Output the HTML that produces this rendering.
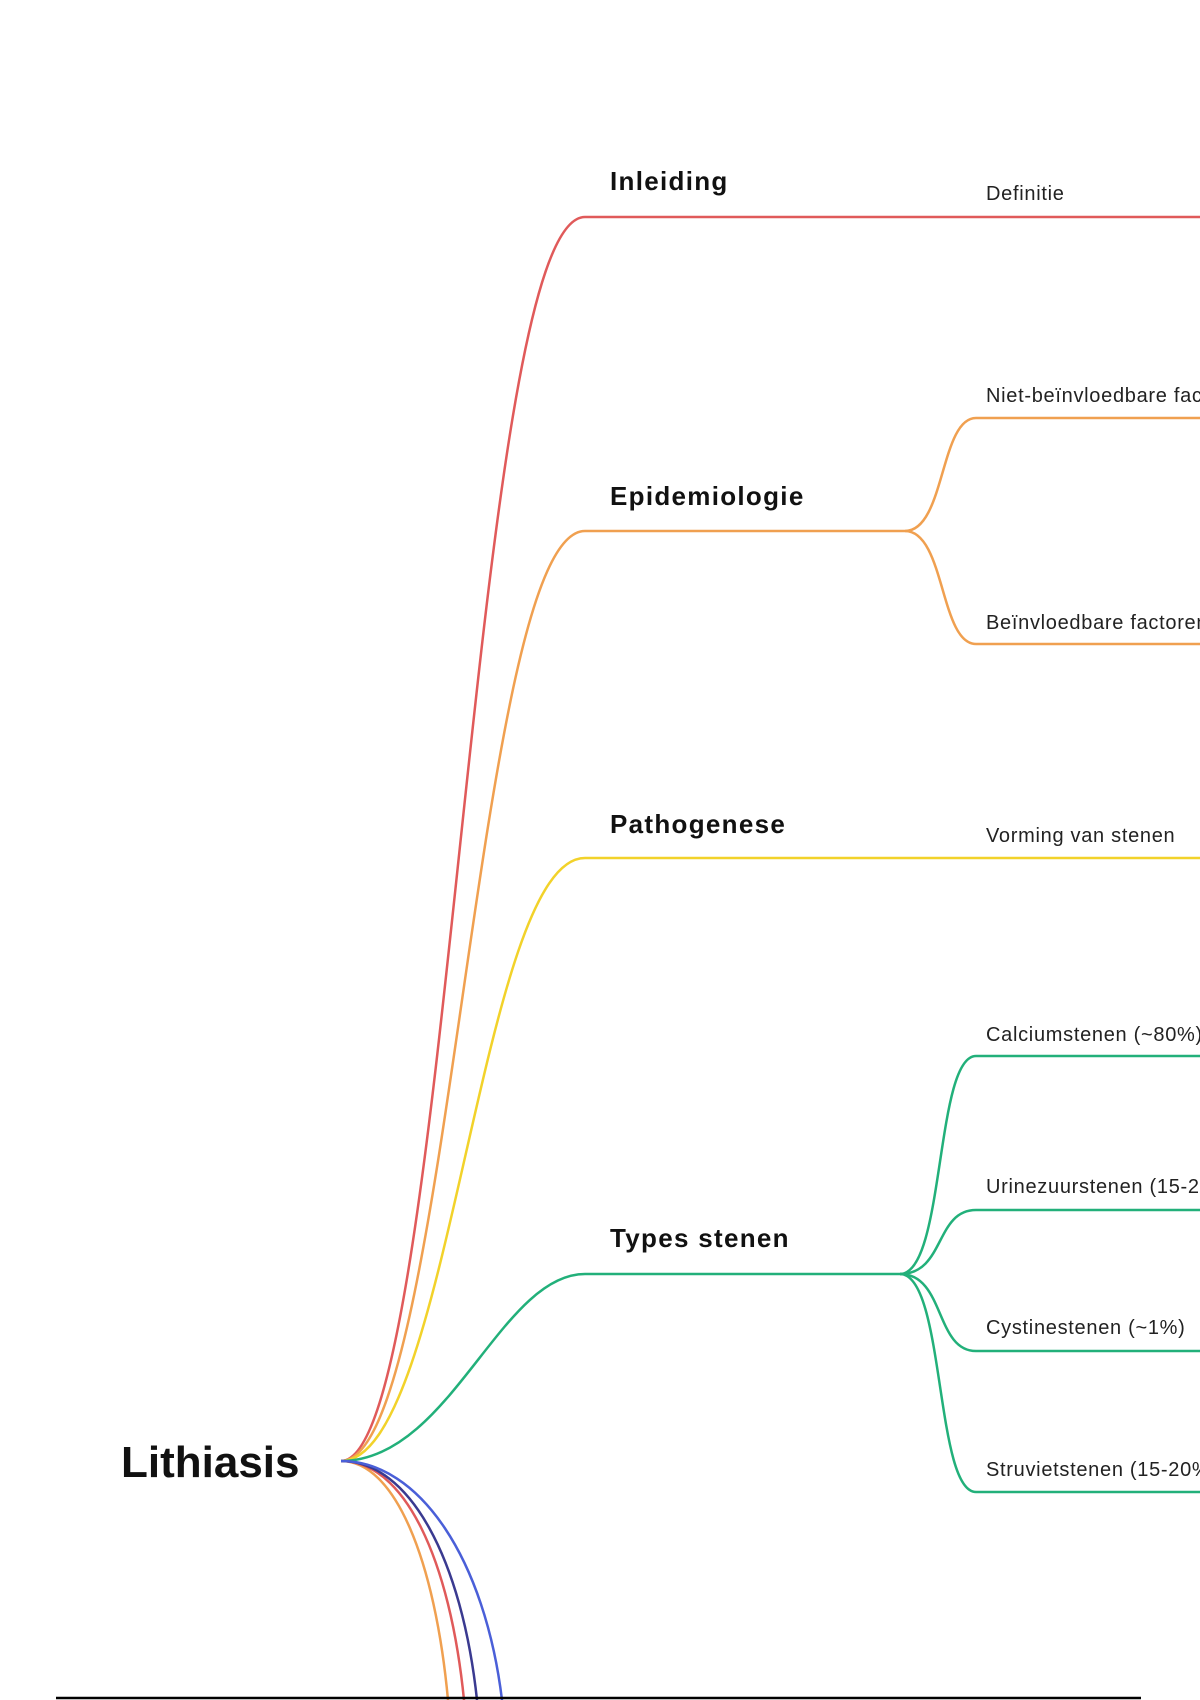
<!DOCTYPE html>
<html><head><meta charset="utf-8"><style>
html,body{margin:0;padding:0;background:#fff;}
svg{display:block}
text{font-family:"Liberation Sans",sans-serif;fill:#111}
.l1{font-size:26px;font-weight:bold;letter-spacing:1.3px}
.l2{font-size:20px;fill:#222;letter-spacing:0.7px}
</style></head><body>
<svg width="1200" height="1700" viewBox="0 0 1200 1700" xmlns="http://www.w3.org/2000/svg">
<g fill="none" stroke-width="2.5">
<path d="M341,1461 C450,1461 470,217 585,217 L1200,217" stroke="#e05a5a"/>
<path d="M341,1461 C450,1461 475,531 585,531 L905,531" stroke="#f0a050"/>
<path d="M341,1461 C450,1461 480,858 585,858 L1200,858" stroke="#f2d22a"/>
<path d="M341,1461 C450,1461 500,1274 585,1274 L900,1274" stroke="#22b07a"/>
<path d="M905,531 C945,531 940,418 976,418 L1200,418" stroke="#f0a050"/>
<path d="M905,531 C945,531 940,644 976,644 L1200,644" stroke="#f0a050"/>
<path d="M900,1274 C945,1274 935,1056 976,1056 L1200,1056" stroke="#22b07a"/>
<path d="M900,1274 C945,1274 935,1210 976,1210 L1200,1210" stroke="#22b07a"/>
<path d="M900,1274 C945,1274 935,1351 976,1351 L1200,1351" stroke="#22b07a"/>
<path d="M900,1274 C945,1274 935,1492 976,1492 L1200,1492" stroke="#22b07a"/>
<path d="M341,1461 C395,1461 435,1560 448,1700" stroke="#f0a050"/>
<path d="M341,1461 C405,1461 450,1560 464,1700" stroke="#e05a5a"/>
<path d="M341,1461 C410,1461 462,1560 477,1700" stroke="#3a3a90"/>
<path d="M341,1461 C420,1461 485,1560 502,1700" stroke="#4a5fd8"/>
</g>
<line x1="56" y1="1698" x2="1141" y2="1698" stroke="#000" stroke-width="2.5"/>
<text x="121" y="1477" style="font-size:44px;font-weight:bold">Lithiasis</text>
<text class="l1" x="610" y="190">Inleiding</text>
<text class="l1" x="610" y="505">Epidemiologie</text>
<text class="l1" x="610" y="833">Pathogenese</text>
<text class="l1" x="610" y="1247">Types stenen</text>
<text class="l2" x="986" y="200">Definitie</text>
<text class="l2" x="986" y="402">Niet-beïnvloedbare factoren</text>
<text class="l2" x="986" y="629">Beïnvloedbare factoren</text>
<text class="l2" x="986" y="842">Vorming van stenen</text>
<text class="l2" x="986" y="1041">Calciumstenen (~80%)</text>
<text class="l2" x="986" y="1193">Urinezuurstenen (15-20%)</text>
<text class="l2" x="986" y="1334">Cystinestenen (~1%)</text>
<text class="l2" x="986" y="1476">Struvietstenen (15-20%)</text>
</svg>
</body></html>
